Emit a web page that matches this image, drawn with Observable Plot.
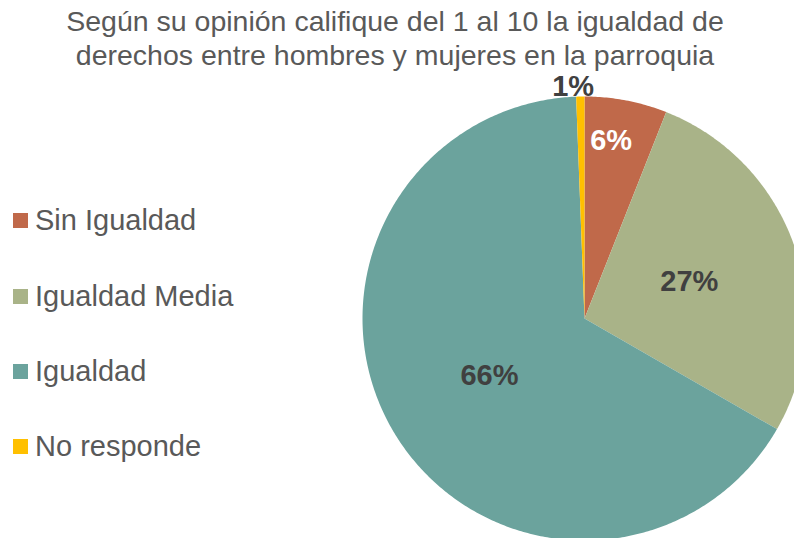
<!DOCTYPE html>
<html><head><meta charset="utf-8">
<script src="https://cdn.jsdelivr.net/npm/d3@7"></script>
<script src="https://cdn.jsdelivr.net/npm/@observablehq/plot@0.6"></script>
<style>
html,body{margin:0;padding:0;background:#fff;}
#wrap{position:relative;width:794px;height:538px;overflow:hidden;font-family:"Liberation Sans",Arial,sans-serif;}
#title{position:absolute;left:0;top:4px;width:790px;text-align:center;font-size:28.5px;line-height:34px;color:#595959;z-index:2;white-space:nowrap;}
#legend{position:absolute;left:13px;top:0;z-index:2;}
.li{position:absolute;left:0;white-space:nowrap;font-size:29px;color:#595959;display:flex;align-items:center;height:30px;}
.sw{width:15px;height:15px;margin-right:7px;flex:none;}
#chart{position:absolute;left:0;top:0;}
</style></head>
<body><div id="wrap">
<div id="title">Según su opinión califique del 1 al 10 la igualdad de<br>derechos entre hombres y mujeres en la parroquia</div>
<div id="legend"></div>
<div id="chart"></div>
</div>
<script>
const categories = ["Sin Igualdad", "Igualdad Media", "Igualdad", "No responde"];
const values = [6, 27.3, 66.1, 0.6];
const labels = ["6%", "27%", "66%", "1%"];
const colors = ["#C0694A", "#A9B388", "#6BA39D", "#FFC000"];

const pie = d3.pie().sort(null).value(d => d)(values);
const slicePts = [];
pie.forEach((p, i) => {
  slicePts.push({cat: categories[i], x: 0, y: 0});
  const n = Math.max(4, Math.ceil((p.endAngle - p.startAngle) / 0.01));
  for (let k = 0; k <= n; k++) {
    const a = p.startAngle + (p.endAngle - p.startAngle) * k / n;
    slicePts.push({cat: categories[i], x: Math.sin(a), y: Math.cos(a)});
  }
});
const labelRadius = v => v < 2 ? 1.045 : v < 10 ? 0.81 : 0.5;
const labelData = pie.map((p, i) => {
  const a = (p.startAngle + p.endAngle) / 2 + (values[i] < 2 ? -0.03 : values[i] < 10 ? -0.04 : 0);
  const r = labelRadius(values[i]);
  return {label: labels[i], x: r * Math.sin(a), y: r * Math.cos(a), fill: values[i] < 10 && values[i] >= 2 ? "#ffffff" : "#404040"};
});

const chart = Plot.plot({
  width: 794, height: 538,
  margin: 0,
  style: {fontFamily: "Liberation Sans, Arial, sans-serif", background: "transparent", overflow: "hidden"},
  x: {domain: [-1, 1], range: [362, 806], axis: null},
  y: {domain: [-1, 1], range: [540, 96], axis: null},
  color: {domain: categories, range: colors},
  marks: [
    Plot.line(slicePts, {x: "x", y: "y", z: "cat", fill: "cat", stroke: "none", curve: "linear-closed"}),
    Plot.text(labelData, {x: "x", y: "y", text: "label", fill: d => d.fill, fontSize: 29, fontWeight: "bold"})
  ]
});
document.getElementById("chart").appendChild(chart);

const legendTops = [220, 296, 371, 446];
const leg = document.getElementById("legend");
categories.forEach((c, i) => {
  const row = document.createElement("div");
  row.className = "li";
  row.style.top = (legendTops[i] - 15) + "px";
  row.innerHTML = `<span class="sw" style="background:${colors[i]}"></span><span>${c}</span>`;
  leg.appendChild(row);
});
</script>
</body></html>
